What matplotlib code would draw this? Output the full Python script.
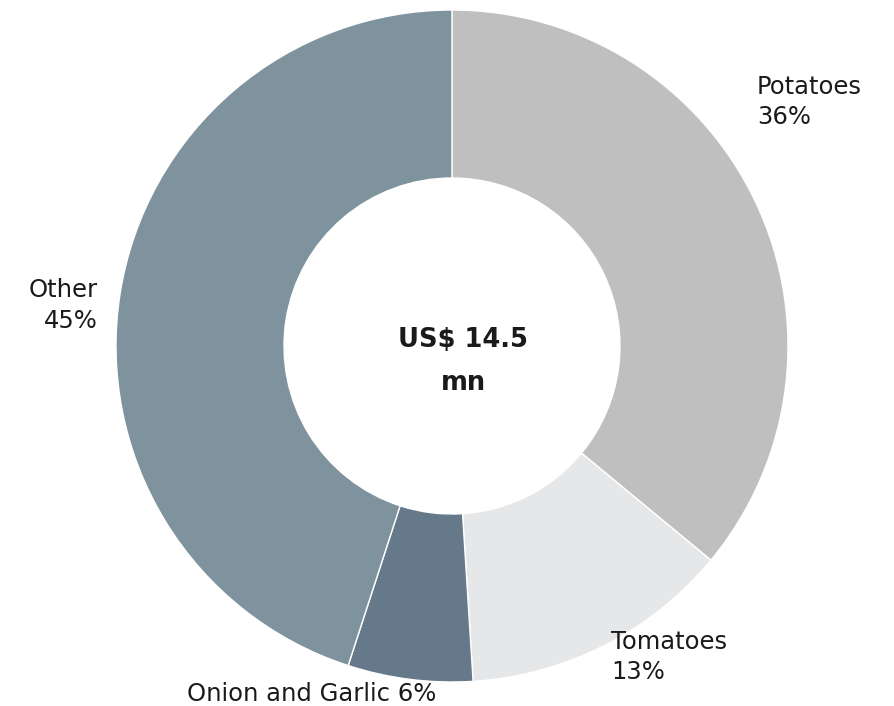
import matplotlib
matplotlib.use("Agg")
import matplotlib.pyplot as plt

categories = ["Potatoes", "Tomatoes", "Onion and Garlic", "Other"]
shares = [36, 13, 6, 45]
colors = ["#bfbfbf", "#e6e7e8", "#66798a", "#7f939e"]
center_lines = ["US$ 14.5", "mn"]

plt.rcParams['font.family'] = ['DejaVu Sans']

W, H = 894, 706
fig = plt.figure(figsize=(W / 100, H / 100), dpi=100)
ax = fig.add_axes([0, 0, 1, 1])

cx, cy, R = 452, H - 346, 336
ax.pie(shares, colors=colors, startangle=90, counterclock=False,
       center=(cx, cy), radius=R, frame=True,
       wedgeprops=dict(width=R * 0.5, edgecolor='white', linewidth=1))
ax.set_xlim(0, W)
ax.set_ylim(0, H)
ax.set_aspect('equal')
ax.axis('off')

fs = 17.5
tc = '#1a1a1a'
kw = dict(fontsize=fs, color=tc, va='baseline')

def put(x, y_px, s, ha='left', **extra):
    ax.text(x, H - y_px, s, ha=ha, **kw, **extra)

put(757, 94, categories[0])
put(757, 124, f"{shares[0]}%")
put(611, 649, categories[1])
put(611, 679, f"{shares[1]}%")
put(187, 701, f"{categories[2]} {shares[2]}%")
put(98, 297, categories[3], ha='right')
put(98, 328, f"{shares[3]}%", ha='right')

ax.text(463, H - 347, center_lines[0], ha='center', va='baseline', fontsize=18.5,
        fontweight='bold', color=tc)
ax.text(463, H - 390, center_lines[1], ha='center', va='baseline', fontsize=18.5,
        fontweight='bold', color=tc)

fig.savefig("out.png", dpi=100)
